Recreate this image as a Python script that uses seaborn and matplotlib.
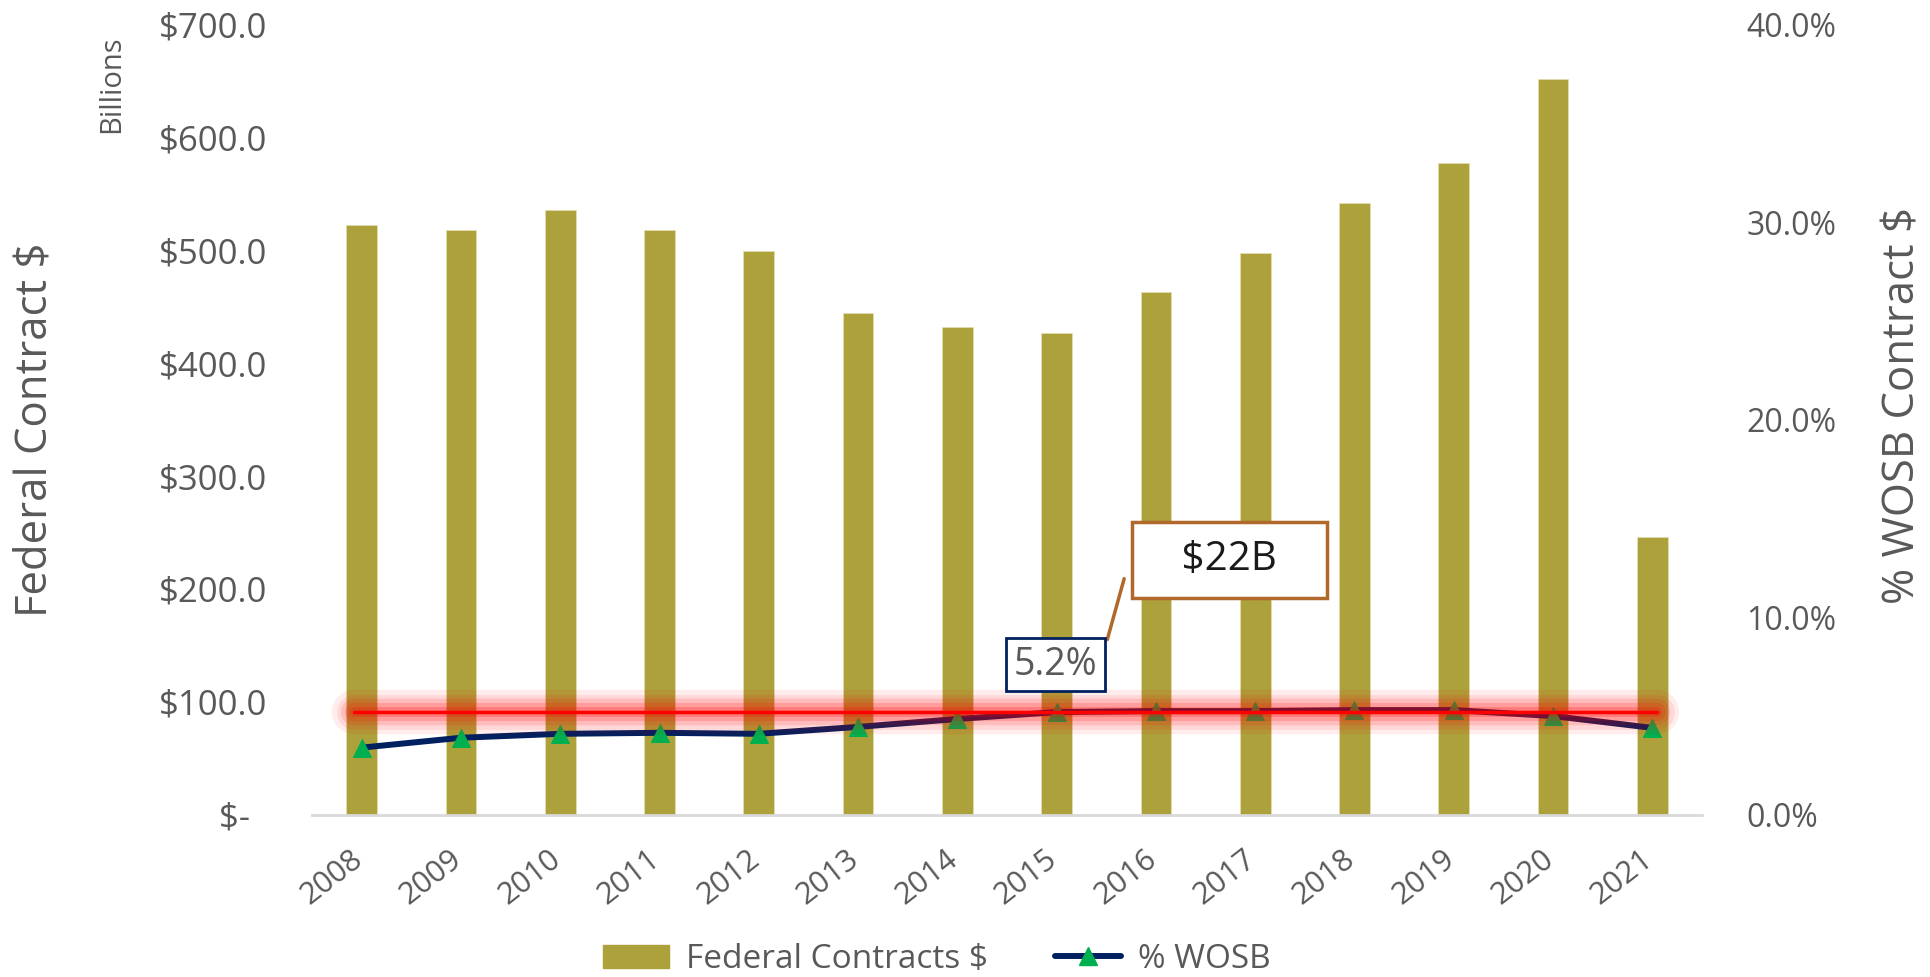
import matplotlib
matplotlib.use("Agg")
import matplotlib.pyplot as plt
import matplotlib.transforms as mtransforms
import numpy as np
import seaborn as sns
from matplotlib.ticker import FuncFormatter, MultipleLocator
from matplotlib.lines import Line2D
from matplotlib.patches import Patch

# Data
years = ['2008', '2009', '2010', '2011', '2012', '2013', '2014',
         '2015', '2016', '2017', '2018', '2019', '2020', '2021']
federal_contracts = [522, 518, 536, 518, 499, 444, 432,
                     427, 463, 498, 542, 577, 652, 246]  # $ billions
wosb_pct = [3.4, 3.9, 4.1, 4.15, 4.1, 4.45, 4.85,
            5.2, 5.25, 5.25, 5.3, 5.3, 5.0, 4.4]
target_pct = 5.2
target_label = '5.2%'
dollars_label = '$22B'

sns.set_theme(style='white')
plt.rcParams['font.family'] = ['Open Sans', 'DejaVu Sans']

grey = '#595959'
olive = '#ADA13B'
navy = '#002060'
green = '#00B050'
red = '#FF0000'
brown = '#B0692A'

fig = plt.figure(figsize=(19.31, 9.77), dpi=100)
ax = fig.add_axes([0.1616, 0.166, 0.7198, 0.809])

# Bars: federal contract dollars
sns.barplot(x=years, y=federal_contracts, color=olive, saturation=1,
            width=0.31, edgecolor='#E3DDB0', linewidth=0.6, ax=ax)
ax.set_ylim(0, 700)
ax.set_xlim(-0.5, 13.5)
ax.yaxis.set_major_locator(MultipleLocator(100))
ax.yaxis.set_major_formatter(FuncFormatter(
    lambda v, p: '$-  ' if v == 0 else f'${v:,.1f}'))
ax.set_ylabel('')
ax.set_xlabel('')
ax.tick_params(axis='y', length=0, pad=32, labelsize=25, labelcolor=grey)
ax.tick_params(axis='x', length=0, pad=21, labelsize=22, labelcolor=grey)
shift = mtransforms.ScaledTranslation(-0.12, 0, fig.dpi_scale_trans)
for lab in ax.get_xticklabels():
    lab.set_rotation(38)
    lab.set_ha('right')
    lab.set_rotation_mode('anchor')
    lab.set_transform(lab.get_transform() + shift)
for s in ['top', 'right', 'left']:
    ax.spines[s].set_visible(False)
ax.spines['bottom'].set_color('#D9D9D9')
ax.spines['bottom'].set_linewidth(2)

fig.text(0.018, 0.56, 'Federal Contract $', rotation=90, fontsize=31.5,
         color=grey, ha='center', va='center')
fig.text(0.9855, 0.585, '% WOSB Contract $', rotation=90, fontsize=31.5,
         color=grey, ha='center', va='center')
fig.text(0.058, 0.914, 'Billions', rotation=90, fontsize=21, color=grey,
         ha='center', va='center')

# Line: % WOSB on secondary axis
ax2 = ax.twinx()
sns.lineplot(x=np.arange(len(years)), y=wosb_pct, ax=ax2, color=navy,
             linewidth=4.3, marker='^', markersize=13.5,
             markerfacecolor=green, markeredgecolor=green)
ax2.set_ylim(0, 40)
ax2.yaxis.set_major_locator(MultipleLocator(10))
ax2.yaxis.set_major_formatter(FuncFormatter(lambda v, p: f'{v:.1f}%'))
ax2.tick_params(axis='y', length=0, pad=32, labelsize=23, labelcolor=grey)
ax2.set_ylabel('')
for s in ax2.spines.values():
    s.set_visible(False)

# Red target line with glow
for lw, a in [(32, 0.07), (25, 0.09), (19, 0.12), (13, 0.16), (7, 0.22)]:
    ax2.plot([-0.08, 13.05], [target_pct, target_pct], color=red,
             lw=lw, alpha=a, solid_capstyle='round')
ax2.plot([-0.08, 13.05], [target_pct, target_pct], color=red, lw=2.5)

# Callouts
ax2.text(6.99, 7.6, target_label, fontsize=27, color=grey, ha='center',
         va='center', zorder=6,
         bbox=dict(boxstyle='square,pad=0.2', fc='white', ec=navy, lw=2))
nb = '\u00a0\u00a0\u00a0'
ax2.text(8.74, 12.9, nb + dollars_label + nb, fontsize=29,
         color='#1a1a1a', ha='center', va='center', zorder=6,
         bbox=dict(boxstyle='square,pad=0.45', fc='white', ec=brown, lw=2.5))
ax2.annotate('', xy=(7.51, 8.87), xytext=(7.68, 11.95),
             arrowprops=dict(arrowstyle='-', color=brown, lw=2.5,
                             shrinkA=0, shrinkB=0))

handles = [Patch(facecolor=olive, edgecolor=olive),
           Line2D([0], [0], color=navy, lw=4.3, marker='^', markersize=13.5,
                  markerfacecolor=green, markeredgecolor=green)]
leg = fig.legend(handles, ['Federal Contracts $', '% WOSB'], loc='center',
                 bbox_to_anchor=(0.485, 0.018), ncol=2, frameon=False,
                 fontsize=24, columnspacing=2, handlelength=2,
                 handletextpad=0.5)
for t in leg.get_texts():
    t.set_color(grey)

fig.savefig('out.png', dpi=100)
